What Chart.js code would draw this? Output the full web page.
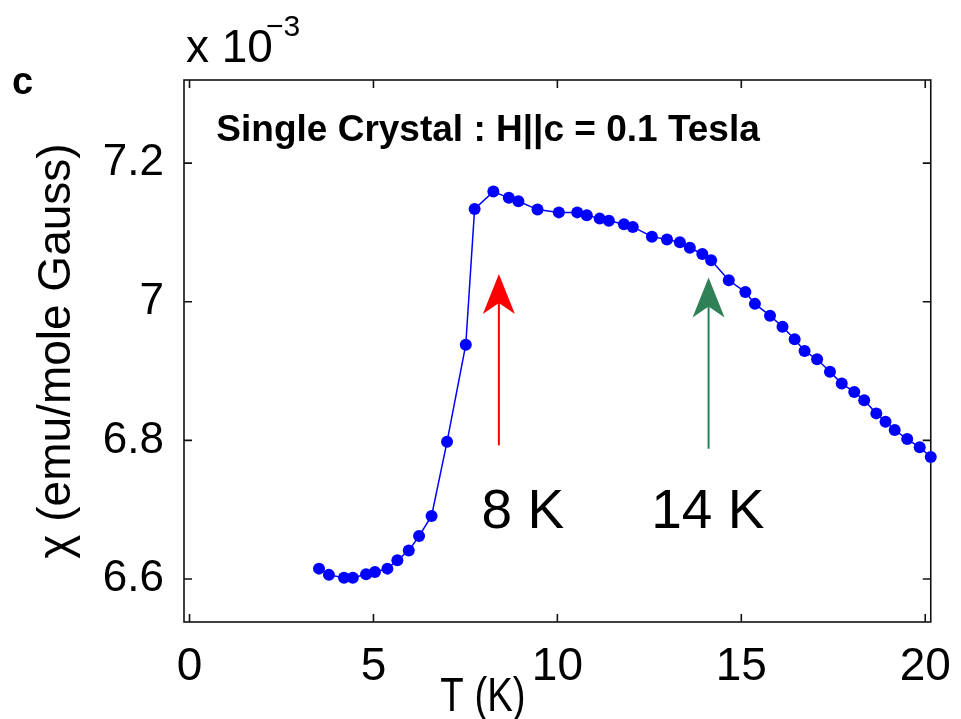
<!DOCTYPE html>
<html>
<head>
<meta charset="utf-8">
<title>chi vs T</title>
<script src="https://cdn.jsdelivr.net/npm/chart.js@4.4.0/dist/chart.umd.min.js"></script>
<style>
  html, body { margin: 0; padding: 0; background: #fff; }
  #chiChart { display: block; }
</style>
</head>
<body>
<canvas id="chiChart" width="961" height="719"></canvas>
<script>
// temperature (K) and susceptibility (x 10^-3 emu/mole Gauss)
const temps = [3.52, 3.79, 4.20, 4.44, 4.80, 5.04, 5.38, 5.65, 5.96, 6.24,
  6.58, 7.00, 7.51, 7.75, 8.26, 8.68, 8.94, 9.46, 10.04, 10.54,
  10.80, 11.15, 11.40, 11.81, 12.05, 12.57, 12.98, 13.33, 13.60, 13.94,
  14.18, 14.66, 15.11, 15.37, 15.78, 16.12, 16.45, 16.72, 17.06, 17.41,
  17.73, 18.07, 18.34, 18.67, 18.92, 19.17, 19.51, 19.85, 20.15];
const chi = [6.615, 6.606, 6.602, 6.602, 6.607, 6.610, 6.615, 6.627, 6.641, 6.662,
  6.691, 6.798, 6.938, 7.134, 7.159, 7.150, 7.145, 7.133, 7.129, 7.129,
  7.125, 7.120, 7.117, 7.112, 7.108, 7.094, 7.090, 7.086, 7.078, 7.069,
  7.060, 7.031, 7.014, 6.997, 6.980, 6.964, 6.946, 6.929, 6.917, 6.899,
  6.882, 6.870, 6.858, 6.839, 6.827, 6.815, 6.802, 6.790, 6.776];

const xTicks = [0, 5, 10, 15, 20];
const yTicks = [6.6, 6.8, 7.0, 7.2];
const yTickLabels = ["6.6", "6.8", "7", "7.2"];

// transition arrows: temperature, tail and tip (in chi units), label
const arrowT = [8.41, 14.11];
const arrowTail = [6.793, 6.788];
const arrowTip = [7.040, 7.035];
const arrowColors = ["#ff0000", "#2e8057"];
const arrowLabels = ["8 K", "14 K"];
const labelT = [9.06, 14.09];

const FONT = "'Liberation Sans', Arial, Helvetica, sans-serif";

function drawArrow(ctx, px, yTail, yTip, color) {
  ctx.strokeStyle = color;
  ctx.fillStyle = color;
  ctx.lineWidth = 2;
  ctx.beginPath();
  ctx.moveTo(px, yTail);
  ctx.lineTo(px, yTip + 28);
  ctx.stroke();
  // notched head
  ctx.beginPath();
  ctx.moveTo(px, yTip);
  ctx.lineTo(px + 16, yTip + 40);
  ctx.lineTo(px, yTip + 29);
  ctx.lineTo(px - 16, yTip + 40);
  ctx.closePath();
  ctx.fill();
}

const framePlugin = {
  id: "frame",
  beforeDatasetsDraw(chart) {
    const { ctx, chartArea: a, scales: { x, y } } = chart;
    ctx.save();
    ctx.strokeStyle = "#111";
    ctx.lineWidth = 1.6;
    ctx.strokeRect(a.left, a.top, a.right - a.left, a.bottom - a.top);
    ctx.beginPath();
    xTicks.forEach(v => {
      const px = x.getPixelForValue(v);
      ctx.moveTo(px, a.bottom); ctx.lineTo(px, a.bottom - 8);
      ctx.moveTo(px, a.top); ctx.lineTo(px, a.top + 8);
    });
    yTicks.forEach(v => {
      const py = y.getPixelForValue(v);
      ctx.moveTo(a.left, py); ctx.lineTo(a.left + 8, py);
      ctx.moveTo(a.right, py); ctx.lineTo(a.right - 8, py);
    });
    ctx.stroke();
    ctx.restore();
  },
  afterDatasetsDraw(chart) {
    const { ctx, scales: { x, y } } = chart;
    ctx.save();
    arrowT.forEach((t, i) => {
      drawArrow(ctx, x.getPixelForValue(t), y.getPixelForValue(arrowTail[i]),
        y.getPixelForValue(arrowTip[i]), arrowColors[i]);
    });
    ctx.fillStyle = "#000";
    ctx.font = "55px " + FONT;
    ctx.textAlign = "center";
    ctx.textBaseline = "alphabetic";
    arrowLabels.forEach((lbl, i) => {
      ctx.fillText(lbl, x.getPixelForValue(labelT[i]), y.getPixelForValue(6.673));
    });
    ctx.font = "bold 37px " + FONT;
    ctx.textAlign = "left";
    ctx.fillText("Single Crystal : H||c = 0.1 Tesla", x.getPixelForValue(0.73), y.getPixelForValue(7.232));
    ctx.restore();
  },
  afterDraw(chart) {
    const ctx = chart.ctx;
    ctx.save();
    ctx.fillStyle = "#000";
    ctx.textAlign = "left";
    ctx.textBaseline = "alphabetic";
    ctx.font = "46px " + FONT;
    ctx.fillText("x 10", 186, 62);
    ctx.font = "30px " + FONT;
    ctx.fillText("\u22123", 266, 36);
    ctx.font = "bold 38px " + FONT;
    ctx.fillText("c", 12, 94);
    // x axis title, slightly condensed like the original
    ctx.font = "48px " + FONT;
    ctx.textAlign = "center";
    ctx.translate(483, 711);
    ctx.scale(0.8, 1);
    ctx.fillText("T (K)", 0, 0);
    ctx.restore();
  }
};

const points = temps.map((t, i) => ({ x: t, y: chi[i] }));

new Chart(document.getElementById("chiChart"), {
  type: "line",
  data: {
    datasets: [{
      data: points,
      borderColor: "#0000ff",
      backgroundColor: "#0000ff",
      borderWidth: 1.5,
      pointRadius: 6,
      pointBorderWidth: 0,
      pointBackgroundColor: "#0000ff",
      tension: 0,
      clip: false
    }]
  },
  options: {
    responsive: false,
    devicePixelRatio: 1,
    animation: false,
    events: [],
    layout: { padding: { left: 0, right: 24, top: 80, bottom: 0 } },
    scales: {
      x: {
        type: "linear",
        min: -0.15,
        max: 20.15,
        grid: { display: false },
        border: { display: false },
        afterBuildTicks: s => { s.ticks = xTicks.map(v => ({ value: v })); },
        afterFit: s => { s.height = 97; },
        ticks: {
          font: { family: FONT, size: 46 },
          color: "#000",
          padding: 10,
          maxRotation: 0,
          autoSkip: false,
          callback: v => String(v)
        }
      },
      y: {
        type: "linear",
        min: 6.538,
        max: 7.320,
        grid: { display: false },
        border: { display: false },
        afterBuildTicks: s => { s.ticks = yTicks.map(v => ({ value: v })); },
        afterFit: s => { s.width = 184; },
        ticks: {
          font: { family: FONT, size: 44 },
          color: "#000",
          padding: 12,
          autoSkip: false,
          callback: v => yTickLabels[yTicks.indexOf(v)]
        },
        title: {
          display: true,
          text: "\u03c7 (emu/mole Gauss)",
          font: { family: FONT, size: 46 },
          color: "#000",
          padding: { top: 30, bottom: 0 }
        }
      }
    },
    plugins: {
      legend: { display: false },
      tooltip: { enabled: false }
    }
  },
  plugins: [framePlugin]
});
</script>
</body>
</html>
